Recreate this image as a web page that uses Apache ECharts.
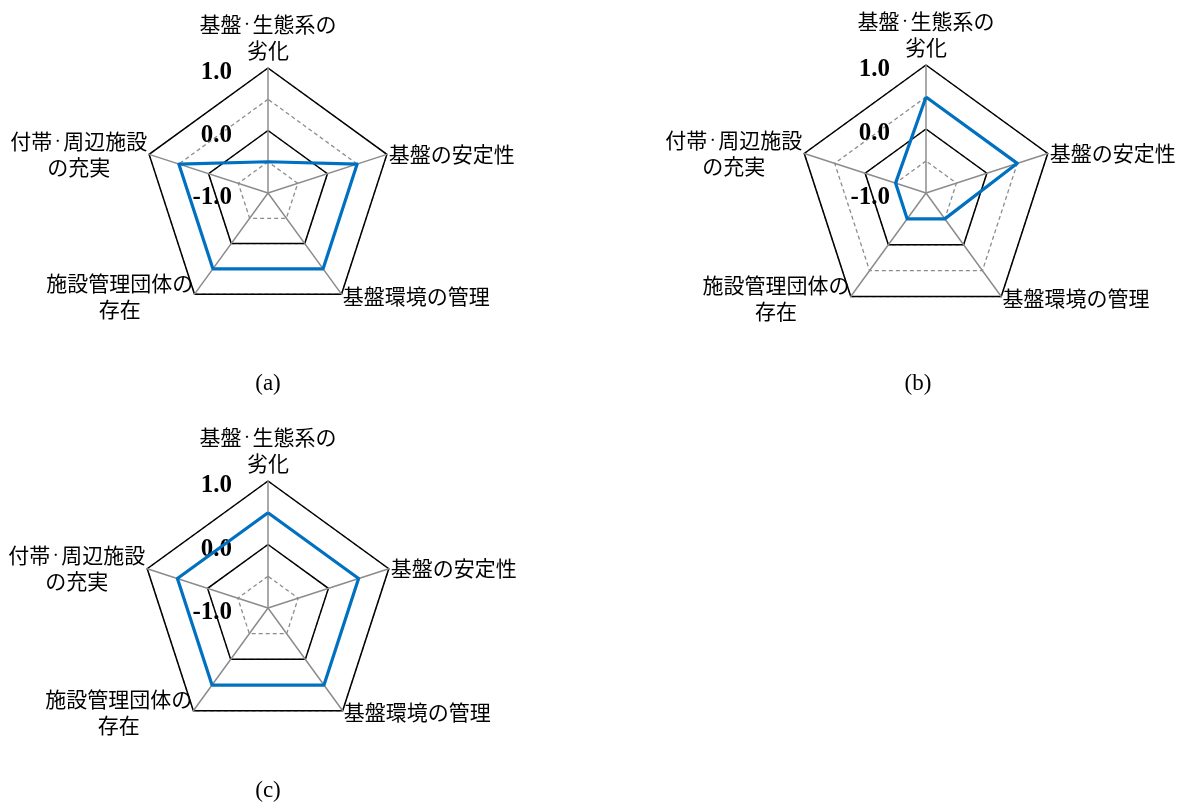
<!DOCTYPE html>
<html>
<head>
<meta charset="utf-8">
<script src="https://cdn.jsdelivr.net/npm/echarts@6/dist/echarts.min.js"></script>
<style>
html, body { margin: 0; padding: 0; background: #fff; }
#main { width: 1190px; height: 807px; }
</style>
</head>
<body>
<div id="main"></div>
<script>
// indicators in ECharts order (top, then counter-clockwise)
var categories = ['基盤・生態系の\n劣化', '付帯・周辺施設\nの充実', '施設管理団体の\n存在', '基盤環境の管理', '基盤の安定性']
var valuesA = [-0.5, 0.5, 0.5, 0.5, 0.5]
var valuesB = [0.5, -0.5, -0.5, -0.5, 0.5]
var valuesC = [0.5, 0.5, 0.5, 0.5, 0.5]
var captions = ['(a)', '(b)', '(c)']
var axisMin = -1
var axisMax = 1

var panels = [
    { center: [268, 193], radius: 125, values: valuesA },
    { center: [926, 193], radius: 128, values: valuesB },
    { center: [268, 608], radius: 127, values: valuesC }
]
var captionPos = [[263, 367], [913, 367], [263, 774]]

var jp = '"Noto Sans CJK JP", "Noto Sans", sans-serif'
var serif = '"Liberation Serif", "DejaVu Serif", serif'

function makeIndicators(withLabel) {
    return categories.map(function (name, i) {
        var ind = { name: name, min: axisMin, max: axisMax }
        if (withLabel && i === 0) {
            ind.axisLabel = { show: true }
        }
        return ind
    })
}

// wrap each line in rich tokens; the middle dot gets a narrower token
function richName(name) {
    var top = name === categories[0]
    return name.split('\n').map(function (line, li) {
        var s = top ? (li === 0 ? 't1' : 't2') : 'c'
        return line.split('・').map(function (part) {
            return part ? '{' + s + '|' + part + '}' : ''
        }).join('{' + s + 'd|・}')
    }).join('\n')
}

function nameStyle(lh, size) {
    return { align: 'center', fontSize: size, fontFamily: jp, color: '#000', lineHeight: lh }
}

var radars = []
var series = []
var titles = []
panels.forEach(function (p, k) {
    // dashed grid (every 0.5)
    radars.push({
        center: p.center,
        radius: p.radius,
        startAngle: 90,
        shape: 'polygon',
        splitNumber: 4,
        indicator: makeIndicators(false),
        axisName: { show: false },
        splitArea: { show: false },
        axisLine: { show: false },
        axisTick: { show: false },
        axisLabel: { show: false },
        splitLine: { lineStyle: { color: '#8c8c8c', width: 1.3, type: [4, 3] } }
    })
    // solid grid (1.0 / 0.0), spokes, names and labels
    radars.push({
        center: p.center,
        radius: p.radius,
        startAngle: 90,
        shape: 'polygon',
        splitNumber: 2,
        indicator: makeIndicators(true),
        nameGap: 2,
        axisName: {
            color: '#000',
            fontSize: 21,
            fontFamily: jp,
            formatter: richName,
            rich: {
                c: nameStyle(26, 21),
                cd: nameStyle(26, 11),
                t1: nameStyle(36, 21),
                t1d: nameStyle(36, 11),
                t2: nameStyle(16, 21),
                t2d: nameStyle(16, 11)
            }
        },
        splitArea: { show: false },
        axisLine: { show: true, lineStyle: { color: '#8c8c8c', width: 1.5 } },
        axisTick: { show: false },
        axisLabel: {
            show: false,
            margin: 36,
            verticalAlign: 'top',
            lineHeight: 10,
            color: '#000',
            fontSize: 25,
            fontWeight: 'bold',
            fontFamily: serif,
            formatter: function (v) { return Number(v).toFixed(1) }
        },
        splitLine: { lineStyle: { color: '#000', width: 1.5 } }
    })
    series.push({
        type: 'radar',
        radarIndex: k * 2 + 1,
        symbol: 'none',
        silent: true,
        lineStyle: { color: '#0070C0', width: 3.2 },
        data: [{ value: p.values }]
    })
    titles.push({
        text: captions[k],
        left: captionPos[k][0],
        top: captionPos[k][1],
        textAlign: 'center',
        textStyle: { fontFamily: serif, fontSize: 23, fontWeight: 'normal', color: '#000' }
    })
})

var myChart = echarts.init(document.getElementById('main'))
myChart.setOption({
    animation: false,
    title: titles,
    radar: radars,
    series: series
})
</script>
</body>
</html>
